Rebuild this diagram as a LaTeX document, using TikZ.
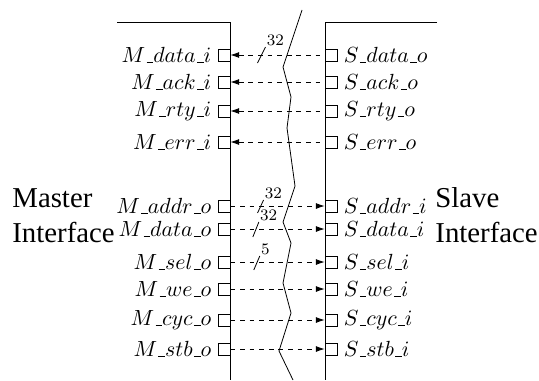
\documentclass[tikz,border=0pt]{standalone}
\usepackage{fontspec}
\usetikzlibrary{arrows.meta}
\newfontfamily\tnrfont{Liberation Serif}
\newcommand{\usc}{\kern.06em\vbox{\hrule width.3em}}
\tikzset{
  port/.style={draw,rectangle,minimum size=6pt,inner sep=0pt},
  every label/.style={font=\fontsize{11}{13}\selectfont,inner sep=3pt},
  sig/.style={dash pattern=on 2.4pt off 2.4pt},
  buswidth/.style={anchor=south west,inner sep=0.5pt,font=\fontsize{8}{9}\selectfont},
  side/.style={anchor=base west,inner sep=0pt,font=\tnrfont\Large}
}
\begin{document}
\begin{tikzpicture}[>={Latex[length=4.4pt,width=3pt]},x=0.5pt,y=-0.5pt]
\useasboundingbox (0,0) rectangle (539,380);

% master and slave blocks
\draw (117,22) -- (230,22) -- (230,380);
\draw (437,22) -- (325,22) -- (325,380);

% break
\draw (302,10) -- (283,67) -- (291,97) -- (287,128) -- (295,186) -- (283,222)
  -- (291,243) -- (283,283) -- (291,313) -- (279,351) -- (293,380);

\node[side] (master) at (12,207) {Master};
\node[side] (minterface) at (12,242) {Interface};
\node[side] (slave) at (435,207) {Slave};
\node[side] (sinterface) at (435,242) {Interface};

% master ports
\node[port,label=left:{$M\usc data\usc i$}] (mdi) at (224,55) {};
\node[port,label=left:{$M\usc ack\usc i$}] (mack) at (224,82) {};
\node[port,label=left:{$M\usc rty\usc i$}] (mrty) at (224,111) {};
\node[port,label=left:{$M\usc err\usc i$}] (merr) at (224,142) {};
\node[port,label=left:{$M\usc addr\usc o$}] (maddr) at (224,206) {};
\node[port,label=left:{$M\usc data\usc o$}] (mdo) at (224,229) {};
\node[port,label=left:{$M\usc sel\usc o$}] (msel) at (224,262) {};
\node[port,label=left:{$M\usc we\usc o$}] (mwe) at (224,289) {};
\node[port,label=left:{$M\usc cyc\usc o$}] (mcyc) at (224,320) {};
\node[port,label=left:{$M\usc stb\usc o$}] (mstb) at (224,349) {};

% slave ports
\node[port,label=right:{$S\usc data\usc o$}] (sdo) at (331,55) {};
\node[port,label=right:{$S\usc ack\usc o$}] (sack) at (331,82) {};
\node[port,label=right:{$S\usc rty\usc o$}] (srty) at (331,111) {};
\node[port,label=right:{$S\usc err\usc o$}] (serr) at (331,142) {};
\node[port,label=right:{$S\usc addr\usc i$}] (saddr) at (331,206) {};
\node[port,label=right:{$S\usc data\usc i$}] (sdi) at (331,229) {};
\node[port,label=right:{$S\usc sel\usc i$}] (ssel) at (331,262) {};
\node[port,label=right:{$S\usc we\usc i$}] (swe) at (331,289) {};
\node[port,label=right:{$S\usc cyc\usc i$}] (scyc) at (331,320) {};
\node[port,label=right:{$S\usc stb\usc i$}] (sstb) at (331,349) {};

% signals
\draw[sig,<-] (mdi) -- coordinate[pos=0.33] (bdi) (sdo);
\draw[sig,<-] (mack) -- (sack);
\draw[sig,<-] (mrty) -- (srty);
\draw[sig,<-] (merr) -- (serr);
\draw[sig,->] (maddr) -- coordinate[pos=0.32] (baddr) (saddr);
\draw[sig,->] (mdo) -- coordinate[pos=0.27] (bdo) (sdi);
\draw[sig,->] (msel) -- coordinate[pos=0.28] (bsel) (ssel);
\draw[sig,->] (mwe) -- (swe);
\draw[sig,->] (mcyc) -- (scyc);
\draw[sig,->] (mstb) -- (sstb);

% bus widths
\draw (bdi) ++(-4,8) -- ++(8,-16) node[buswidth] {32};
\draw (baddr) ++(-3,7) -- ++(6,-13) node[buswidth] {32};
\draw (bdo) ++(-3,8) -- ++(6,-15) node[buswidth] {32};
\draw (bsel) ++(-3,8) -- ++(6,-14) node[buswidth] {5};
\end{tikzpicture}
\end{document}
